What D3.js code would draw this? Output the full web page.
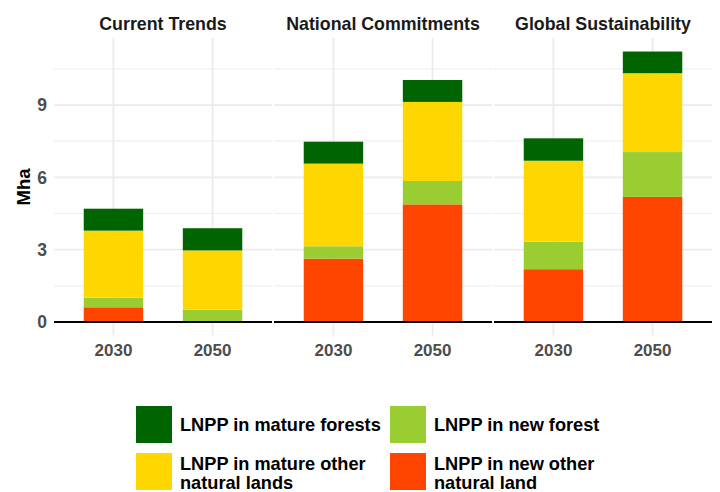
<!DOCTYPE html>
<html>
<head>
<meta charset="utf-8">
<script src="https://cdn.jsdelivr.net/npm/d3@7"></script>
<style>
  html, body { margin: 0; padding: 0; background: #fff; }
  svg { display: block; font-family: "Liberation Sans", Arial, sans-serif; }
</style>
</head>
<body>
<svg id="chart" width="720" height="492"></svg>
<script>
// ---- data ----
const scenarios = ["Current Trends", "National Commitments", "Global Sustainability"];
const years = ["2030", "2050"];
const seriesNames = ["LNPP in new other natural land", "LNPP in new forest", "LNPP in mature other natural lands", "LNPP in mature forests"];
const seriesColors = ["#FF4500", "#9ACD32", "#FFD700", "#006400"];
// values per scenario, [2030, 2050], per series (bottom to top)
const newOtherNatural = [[0.61, 0.00], [2.63, 4.88], [2.19, 5.19]];
const newForest       = [[0.40, 0.51], [0.51, 0.97], [1.14, 1.86]];
const matureOther     = [[2.78, 2.46], [3.43, 3.28], [3.36, 3.27]];
const matureForest    = [[0.91, 0.92], [0.91, 0.91], [0.93, 0.90]];
const yTicks = [0, 3, 6, 9];
const yMinor = [1.5, 4.5, 7.5, 10.5];
const legendOrder = [3, 1, 2, 0];
const legendLabels = [["LNPP in mature forests"], ["LNPP in new forest"], ["LNPP in mature other", "natural lands"], ["LNPP in new other", "natural land"]];

// ---- build rows ----
const seriesData = [newOtherNatural, newForest, matureOther, matureForest];
const rows = [];
scenarios.forEach((s, si) => {
  years.forEach((y, yi) => {
    const r = { scenario: s, year: y };
    seriesNames.forEach((n, k) => { r[n] = seriesData[k][si][yi]; });
    rows.push(r);
  });
});
const stack = d3.stack().keys(seriesNames);

const svg = d3.select("#chart");
const panelLeft = 54, panelW = 218, panelGap = 2;
const panelTop = 38, zeroY = 322;

const maxTotal = d3.max(rows, r => d3.sum(seriesNames, n => r[n]));
const pad = maxTotal * 0.05;
const unit = (zeroY - panelTop) / (maxTotal + pad);
const panelBottom = zeroY + pad * unit;
const y = d3.scaleLinear().domain([-pad, maxTotal + pad]).range([panelBottom, panelTop]);

scenarios.forEach((s, si) => {
  const x0 = panelLeft + si * (panelW + panelGap);
  const x = d3.scalePoint().domain(years).range([x0, x0 + panelW]).padding(0.6);
  const bw = x.step() * 0.6;
  const g = svg.append("g");

  // gridlines
  g.selectAll(".minor").data(yMinor).join("line")
    .attr("x1", x0).attr("x2", x0 + panelW)
    .attr("y1", d => y(d)).attr("y2", d => y(d))
    .attr("stroke", "#f0f0f0").attr("stroke-width", 1.2);
  g.selectAll(".major").data(yTicks).join("line")
    .attr("x1", x0).attr("x2", x0 + panelW)
    .attr("y1", d => y(d)).attr("y2", d => y(d))
    .attr("stroke", "#ebebeb").attr("stroke-width", 1.8);
  g.selectAll(".vgrid").data(years).join("line")
    .attr("x1", d => x(d)).attr("x2", d => x(d))
    .attr("y1", panelTop).attr("y2", panelBottom)
    .attr("stroke", "#ebebeb").attr("stroke-width", 1.8);

  // bars
  const sub = rows.filter(r => r.scenario === s);
  const st = stack(sub);
  st.forEach((layer, k) => {
    g.selectAll(null).data(layer).join("rect")
      .attr("x", d => x(d.data.year) - bw / 2)
      .attr("width", bw)
      .attr("y", d => y(d[1]))
      .attr("height", d => Math.max(0, y(d[0]) - y(d[1])))
      .attr("fill", seriesColors[k]);
  });

  // zero line
  g.append("line")
    .attr("x1", x0).attr("x2", x0 + panelW)
    .attr("y1", y(0)).attr("y2", y(0))
    .attr("stroke", "#000").attr("stroke-width", 1.8);

  // x tick labels
  g.selectAll(".xt").data(years).join("text")
    .attr("x", d => x(d)).attr("y", 350)
    .attr("dy", "0.36em")
    .attr("text-anchor", "middle")
    .attr("font-size", 17).attr("font-weight", "bold").attr("fill", "#4d4d4d")
    .text(d => d);

  // strip title
  g.append("text")
    .attr("x", x0 + panelW / 2).attr("y", 23.5).attr("dy", "0.36em")
    .attr("text-anchor", "middle")
    .attr("font-size", 17.8).attr("font-weight", "bold").attr("fill", "#1a1a1a")
    .text(s);
});

// y axis labels
svg.selectAll(".yt").data(yTicks).join("text")
  .attr("x", 47).attr("y", d => y(d)).attr("dy", "0.36em")
  .attr("text-anchor", "end")
  .attr("font-size", 17.5).attr("font-weight", "bold").attr("fill", "#4d4d4d")
  .text(d => d);

svg.append("text")
  .attr("transform", "translate(23,187) rotate(-90)")
  .attr("dy", "0.36em").attr("text-anchor", "middle")
  .attr("font-size", 18.5).attr("font-weight", "bold").attr("fill", "#000")
  .text("Mha");

// legend
const legCols = [136, 390], legRows = [406, 453], keyW = 36, keyH = 37;
legendOrder.forEach((k, i) => {
  const col = i % 2, row = Math.floor(i / 2);
  const lx = legCols[col], ly = legRows[row];
  svg.append("rect").attr("x", lx).attr("y", ly).attr("width", keyW).attr("height", keyH)
    .attr("fill", seriesColors[k]);
  const lines = legendLabels[i];
  const t = svg.append("text")
    .attr("font-size", 18.2).attr("font-weight", "bold").attr("fill", "#000");
  const startY = lines.length === 1 ? ly + keyH / 2 : ly + 10;
  lines.forEach((ln, j) => {
    t.append("tspan").attr("x", lx + 44).attr("y", startY + j * 19.5).attr("dy", "0.36em").text(ln);
  });
});
</script>
</body>
</html>
